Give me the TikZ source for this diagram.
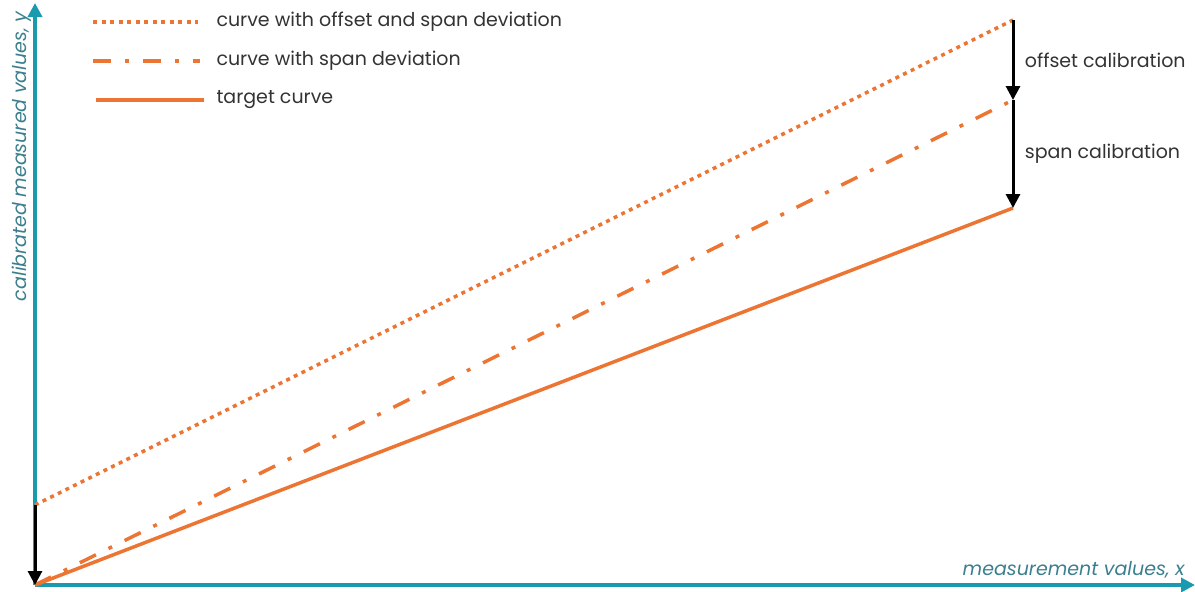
\documentclass[tikz,border=0pt]{standalone}
\usepackage{fontspec}
\setmainfont{Poppins}
\usetikzlibrary{positioning,arrows.meta}
\usepackage{xcolor}
\definecolor{axisteal}{HTML}{1A9AAE}
\definecolor{labelteal}{HTML}{3B7F8E}
\definecolor{curveorange}{HTML}{ED7534}
\definecolor{textgray}{HTML}{333333}

\begin{document}
\begin{tikzpicture}[
    x=1pt, y=-1pt,
    axis/.style={-{Triangle[length=14pt, width=14pt]}, line width=3.5pt, draw=axisteal},
    curve/.style={line width=3.5pt, draw=curveorange},
    dotcurve/.style={curve, dash pattern=on 4pt off 4.5pt},
    dashdotcurve/.style={curve, dash pattern=on 18pt off 14pt on 4pt off 14pt},
    calib/.style={-{Triangle[length=14pt, width=14pt]}, line width=3pt},
    plaintext/.style={font=\fontsize{19}{22}\selectfont, text=textgray},
    axislabel/.style={font=\fontsize{19}{22}\selectfont\itshape, text=labelteal}
]
    \useasboundingbox (0,0) rectangle (1195,592);

    % axes
    \coordinate (origin) at (35,585);
    \coordinate (ytip) at (35,3);
    \coordinate (xtip) at (1195,585);
    \draw[axis] (origin) -- (ytip);
    \draw[axis] (origin) -- (xtip);
    \node[axislabel, rotate=90, anchor=base east] (ylabel) at (26,8) {calibrated measured values, y};
    \node[axislabel, anchor=base east] (xlabel) at (1188,575) {measurement values, x};

    % curves
    \coordinate (offstart) at (35,505);
    \coordinate (offend) at (1013,20);
    \coordinate (spanend) at (1013,100);
    \coordinate (targetend) at (1013,208);
    \draw[dotcurve] (offstart) -- (offend);
    \draw[dashdotcurve] (origin) -- (spanend);
    \draw[curve] (origin) -- (targetend);

    % calibration steps
    \draw[calib] (offend) -- node[right=7pt, plaintext] (offlabel) {offset calibration} (spanend);
    \draw[calib] (spanend) -- node[right=7pt, plaintext] (spanlabel) {span calibration} (targetend);
    \draw[calib] (offstart) -- (origin);

    % legend
    \node[plaintext, anchor=west] (leg1) at (213,22) {curve with offset and span deviation};
    \node[plaintext, anchor=west] (leg2) at (213,61) {curve with span deviation};
    \node[plaintext, anchor=west] (leg3) at (213,100) {target curve};
    \coordinate (leg1a) at (93,22);  \coordinate (leg1b) at (198,22);
    \coordinate (leg2a) at (93,61);  \coordinate (leg2b) at (200,61);
    \coordinate (leg3a) at (96,100); \coordinate (leg3b) at (204,100);
    \draw[dotcurve] (leg1a) -- (leg1b);
    \draw[dashdotcurve] (leg2a) -- (leg2b);
    \draw[curve] (leg3a) -- (leg3b);
\end{tikzpicture}
\end{document}
